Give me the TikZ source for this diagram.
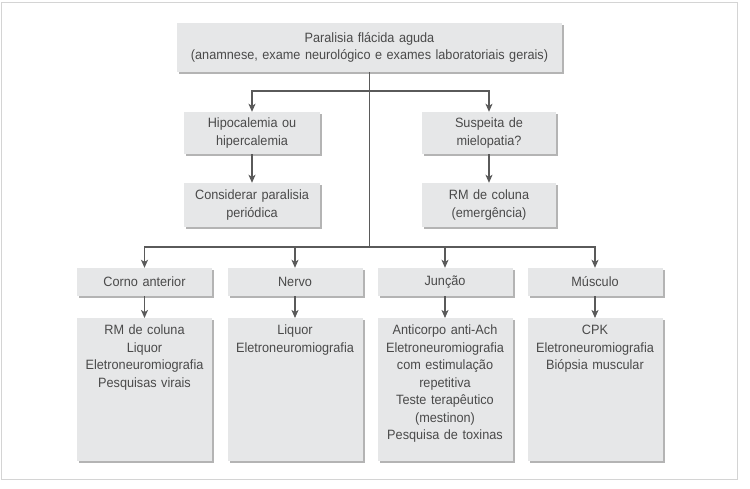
\documentclass[tikz,border=0pt]{standalone}
\usepackage{fontspec}
\setmainfont{Liberation Sans}[FakeStretch=0.94]
\usepackage{xcolor}
\usepackage{tikz}
\usetikzlibrary{arrows.meta,shadows,positioning}
\definecolor{boxgray}{HTML}{E6E7E8}
\definecolor{shadowgray}{HTML}{B4B4B4}
\definecolor{linegray}{HTML}{5A5A5A}
\definecolor{textgray}{HTML}{4A4A4A}
\definecolor{framegray}{HTML}{D4D4D4}
\newcommand{\examlist}[1]{\parbox[t][129pt][t]{135pt}{\centering #1}}

\begin{document}
\begin{tikzpicture}[x=1pt,y=-1pt,
  box/.style={fill=boxgray,inner sep=0pt,align=center,text=textgray,
    font=\fontsize{13.5}{17.5}\selectfont,
    drop shadow={shadow xshift=2pt,shadow yshift=-2pt,fill=shadowgray,opacity=1}},
  exam/.style={box,text width=135pt,minimum height=143pt,inner ysep=7pt,anchor=north},
  cat/.style={box,text width=135pt,minimum height=28pt},
  ln/.style={draw=linegray,line width=1.1pt},
  arr/.style={ln,-{Stealth[length=8pt,width=7pt,inset=2pt]}}]
\useasboundingbox (0,0) rectangle (750,489);
\draw[framegray,line width=1pt] (1,3) rectangle (737,479);
% top part
\node[box,text width=385pt,minimum height=49pt] (top) at (369.5,47.5) {Paralisia flácida aguda\\(anamnese, exame neurológico e exames laboratoriais gerais)};
\node[box,text width=136pt,minimum height=42pt] (hipo) at (252,133) {Hipocalemia ou\\hipercalemia};
\node[box,text width=136pt,minimum height=44pt] (period) at (252,205) {Considerar paralisia\\periódica};
\node[box,text width=134pt,minimum height=42pt] (mielo) at (489,133) {Suspeita de\\mielopatia?};
\node[box,text width=134pt,minimum height=44pt] (rmcol) at (489,205) {RM de coluna\\(emergência)};
% sites of the lesion
\node[cat] (corno) at (144.5,282) {Corno anterior};
\node[cat] (nervo) at (295,282) {Nervo};
\node[cat] (juncao) at (445,282) {Junção};
\node[cat] (musculo) at (595,282) {Músculo};
\node[exam] (cornoexam) at (144.5,318) {\examlist{RM de coluna\\Liquor\\Eletroneuromiografia\\Pesquisas virais}};
\node[exam] (nervoexam) at (295,318) {\examlist{Liquor\\Eletroneuromiografia}};
\node[exam] (juncaoexam) at (445,318) {\examlist{Anticorpo anti-Ach\\Eletroneuromiografia\\com estimulação\\repetitiva\\Teste terapêutico\\(mestinon)\\Pesquisa de toxinas}};
\node[exam] (musculoexam) at (595,318) {\examlist{CPK\\Eletroneuromiografia\\Biópsia muscular}};
% connectors
\coordinate (fork1) at (369.5,91);
\coordinate (fork2) at (369.5,247);
\draw[ln] (top) -- (fork2);
\draw[arr] (fork1) -| (hipo);
\draw[arr] (fork1) -| (mielo);
\draw[arr] (hipo) -- (period);
\draw[arr] (mielo) -- (rmcol);
\draw[arr] (fork2) -| (corno);
\draw[arr] (fork2) -| (nervo);
\draw[arr] (fork2) -| (juncao);
\draw[arr] (fork2) -| (musculo);
\draw[arr] (corno) -- (cornoexam);
\draw[arr] (nervo) -- (nervoexam);
\draw[arr] (juncao) -- (juncaoexam);
\draw[arr] (musculo) -- (musculoexam);
\end{tikzpicture}
\end{document}
